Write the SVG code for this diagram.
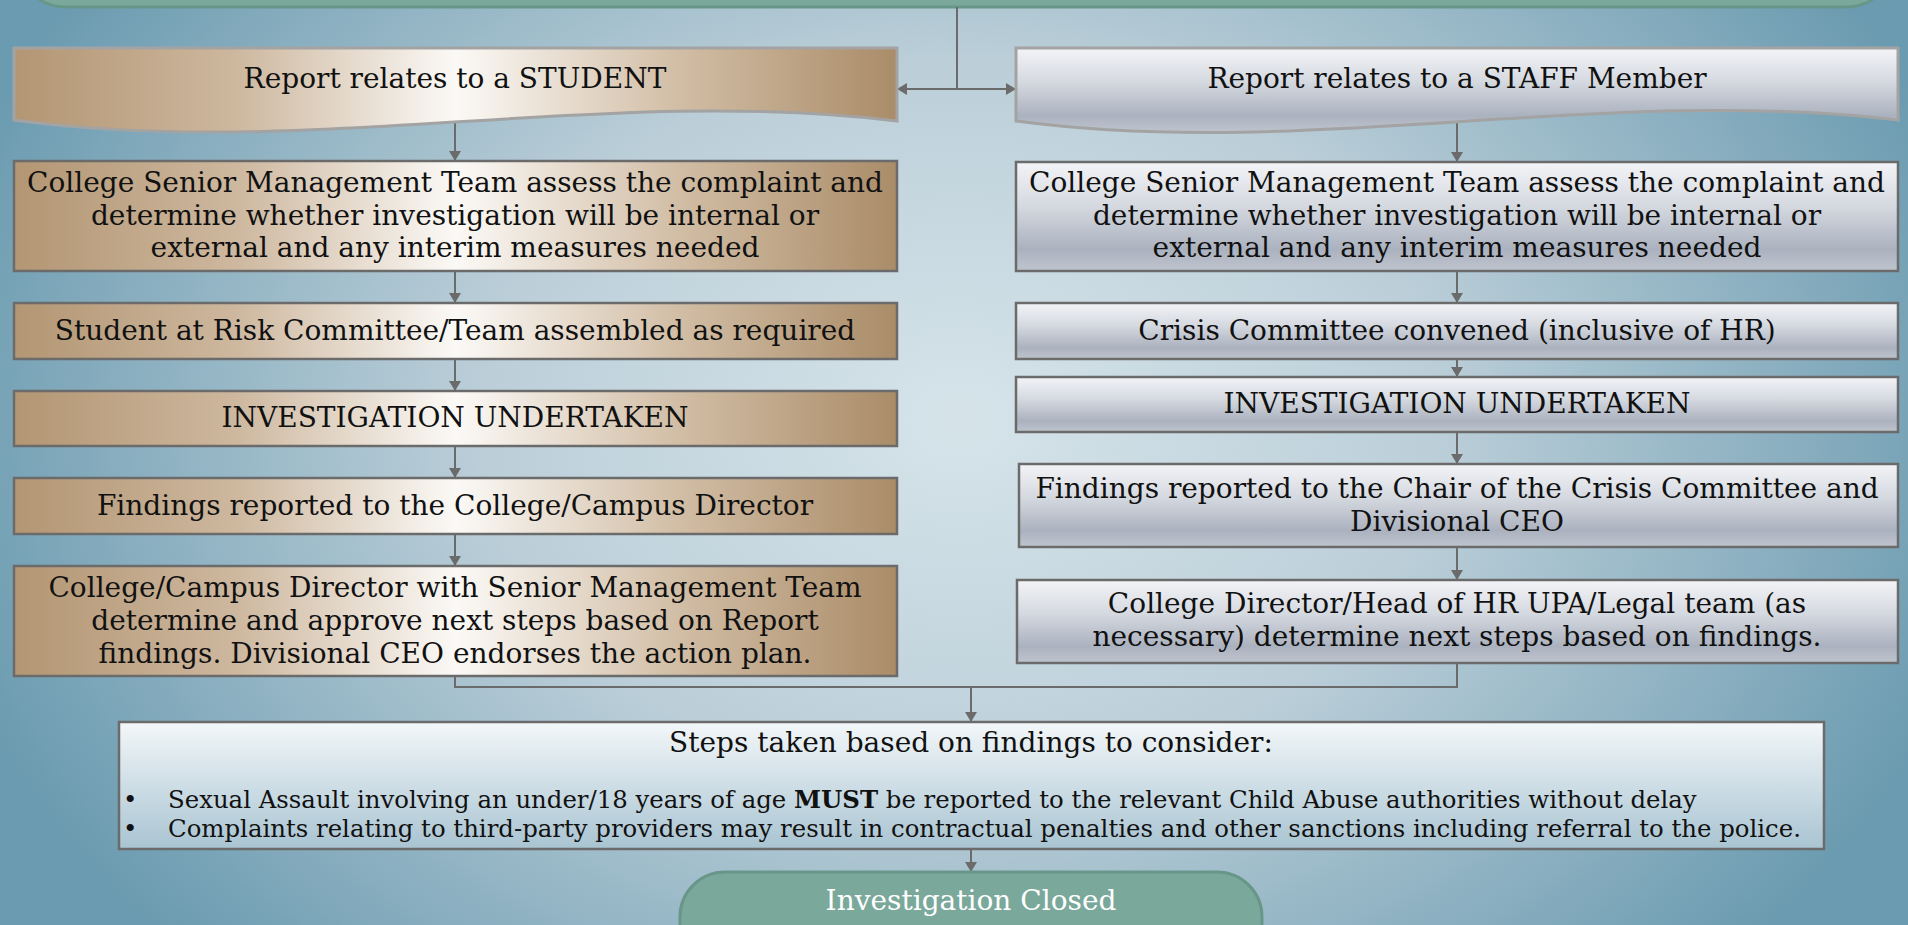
<svg xmlns="http://www.w3.org/2000/svg" width="1908" height="925" viewBox="0 0 1908 925">
<defs>
<radialGradient id="bg" cx="960" cy="420" r="1050" gradientUnits="userSpaceOnUse" gradientTransform="translate(960 420) scale(1 0.75) translate(-960 -420)">
<stop offset="0" stop-color="#d6e4ea"/>
<stop offset="0.45" stop-color="#bccfd9"/>
<stop offset="1" stop-color="#6b9bb0"/>
</radialGradient>
<linearGradient id="tan" x1="0" y1="0" x2="1" y2="0">
<stop offset="0" stop-color="#b39673"/>
<stop offset="0.25" stop-color="#cdb79e"/>
<stop offset="0.5" stop-color="#fbf9f6"/>
<stop offset="0.75" stop-color="#d2bea6"/>
<stop offset="1" stop-color="#aa8c68"/>
</linearGradient>
<linearGradient id="silver" x1="0" y1="0" x2="0" y2="1">
<stop offset="0" stop-color="#f3f4f7"/>
<stop offset="0.4" stop-color="#d5d9e0"/>
<stop offset="0.8" stop-color="#abb2bf"/>
<stop offset="1" stop-color="#bfc5ce"/>
</linearGradient>
<linearGradient id="sumg" x1="0" y1="0" x2="0" y2="1">
<stop offset="0" stop-color="#f3f7f9"/>
<stop offset="1" stop-color="#a9c4d2"/>
</linearGradient>
<marker id="arr" viewBox="0 0 10 12" refX="10" refY="6" markerWidth="10" markerHeight="12" markerUnits="userSpaceOnUse" orient="auto">
<path d="M0,0 L10,6 L0,12 Z" fill="#6b6b6b"/>
</marker>
<style>
text{font-family:"DejaVu Serif","Liberation Serif",serif;font-size:28px;fill:#111;text-anchor:middle}
.sm{font-size:24.4px;text-anchor:start}
.wh{fill:#ffffff;font-size:28px}
.tanbox{fill:url(#tan);stroke:#6b6b6b;stroke-width:2.5}
.silbox{fill:url(#silver);stroke:#6b6b6b;stroke-width:2.5}
.wave{stroke:#a3a3a3;stroke-width:3}
.green{fill:#7aa89b;stroke:#68978a;stroke-width:3}
.con{fill:none;stroke:#6b6b6b;stroke-width:2}
.arr{marker-end:url(#arr)}
</style>
</defs>
<rect width="1908" height="925" fill="url(#bg)"/>

<g id="start"><rect class="green" x="24" y="-60" width="1864" height="67" rx="42"/></g>

<g id="connectors">
<path class="con" d="M957,7 V89"/>
<path class="con arr" d="M957,89 H897"/>
<path class="con arr" d="M957,89 H1016"/>
<path class="con arr" d="M455,123 V161"/>
<path class="con arr" d="M455,271 V303"/>
<path class="con arr" d="M455,359 V391"/>
<path class="con arr" d="M455,446 V478"/>
<path class="con arr" d="M455,534 V566"/>
<path class="con arr" d="M1457,122 V162"/>
<path class="con arr" d="M1457,271 V303"/>
<path class="con arr" d="M1457,359 V377"/>
<path class="con arr" d="M1457,432 V464"/>
<path class="con arr" d="M1457,547 V580"/>
<path class="con" d="M455,676 V687 H1457 V663"/>
<path class="con arr" d="M971,687 V722"/>
<path class="con arr" d="M971,849 V872"/>
</g>

<g id="student-head">
<path class="wave" fill="url(#tan)" d="M14,48 H897 V121 C600,85 310,160 14,120 Z"/>
<text x="455" y="88">Report relates to a STUDENT</text>
</g>
<g id="staff-head">
<path class="wave" fill="url(#silver)" d="M1016,48 H1898 V120 C1600,85 1310,160 1016,121 Z"/>
<text x="1457" y="88">Report relates to a STAFF Member</text>
</g>

<g id="student-assess">
<rect class="tanbox" x="14" y="161" width="883" height="110"/>
<text x="455" y="192">College Senior Management Team assess the complaint and</text>
<text x="455" y="225">determine whether investigation will be internal or</text>
<text x="455" y="257">external and any interim measures needed</text>
</g>
<g id="student-committee">
<rect class="tanbox" x="14" y="303" width="883" height="56"/>
<text x="455" y="340">Student at Risk Committee/Team assembled as required</text>
</g>
<g id="student-investigation">
<rect class="tanbox" x="14" y="391" width="883" height="55"/>
<text x="455" y="427">INVESTIGATION UNDERTAKEN</text>
</g>
<g id="student-findings">
<rect class="tanbox" x="14" y="478" width="883" height="56"/>
<text x="455" y="515">Findings reported to the College/Campus Director</text>
</g>
<g id="student-next">
<rect class="tanbox" x="14" y="566" width="883" height="110"/>
<text x="455" y="597">College/Campus Director with Senior Management Team</text>
<text x="455" y="630">determine and approve next steps based on Report</text>
<text x="455" y="663">findings. Divisional CEO endorses the action plan.</text>
</g>

<g id="staff-assess">
<rect class="silbox" x="1016" y="162" width="882" height="109"/>
<text x="1457" y="192">College Senior Management Team assess the complaint and</text>
<text x="1457" y="225">determine whether investigation will be internal or</text>
<text x="1457" y="257">external and any interim measures needed</text>
</g>
<g id="staff-committee">
<rect class="silbox" x="1016" y="303" width="882" height="56"/>
<text x="1457" y="340">Crisis Committee convened (inclusive of HR)</text>
</g>
<g id="staff-investigation">
<rect class="silbox" x="1016" y="377" width="882" height="55"/>
<text x="1457" y="413">INVESTIGATION UNDERTAKEN</text>
</g>
<g id="staff-findings">
<rect class="silbox" x="1019" y="464" width="879" height="83"/>
<text x="1457" y="498">Findings reported to the Chair of the Crisis Committee and</text>
<text x="1457" y="531">Divisional CEO</text>
</g>
<g id="staff-next">
<rect class="silbox" x="1017" y="580" width="881" height="83"/>
<text x="1457" y="613">College Director/Head of HR UPA/Legal team (as</text>
<text x="1457" y="646">necessary) determine next steps based on findings.</text>
</g>

<g id="summary">
<rect x="119" y="722" width="1705" height="127" fill="url(#sumg)" stroke="#6b6b6b" stroke-width="2.5"/>
<text x="971" y="752">Steps taken based on findings to consider:</text>
<text class="sm" x="123" y="808">•</text>
<text class="sm" x="168" y="808">Sexual Assault involving an under/18 years of age <tspan font-weight="bold">MUST</tspan> be reported to the relevant Child Abuse authorities without delay</text>
<text class="sm" x="123" y="837">•</text>
<text class="sm" x="168" y="837">Complaints relating to third-party providers may result in contractual penalties and other sanctions including referral to the police.</text>
</g>

<g id="closed">
<rect class="green" x="680" y="872" width="582" height="110" rx="45"/>
<text class="wh" x="971" y="910">Investigation Closed</text>
</g>
</svg>
